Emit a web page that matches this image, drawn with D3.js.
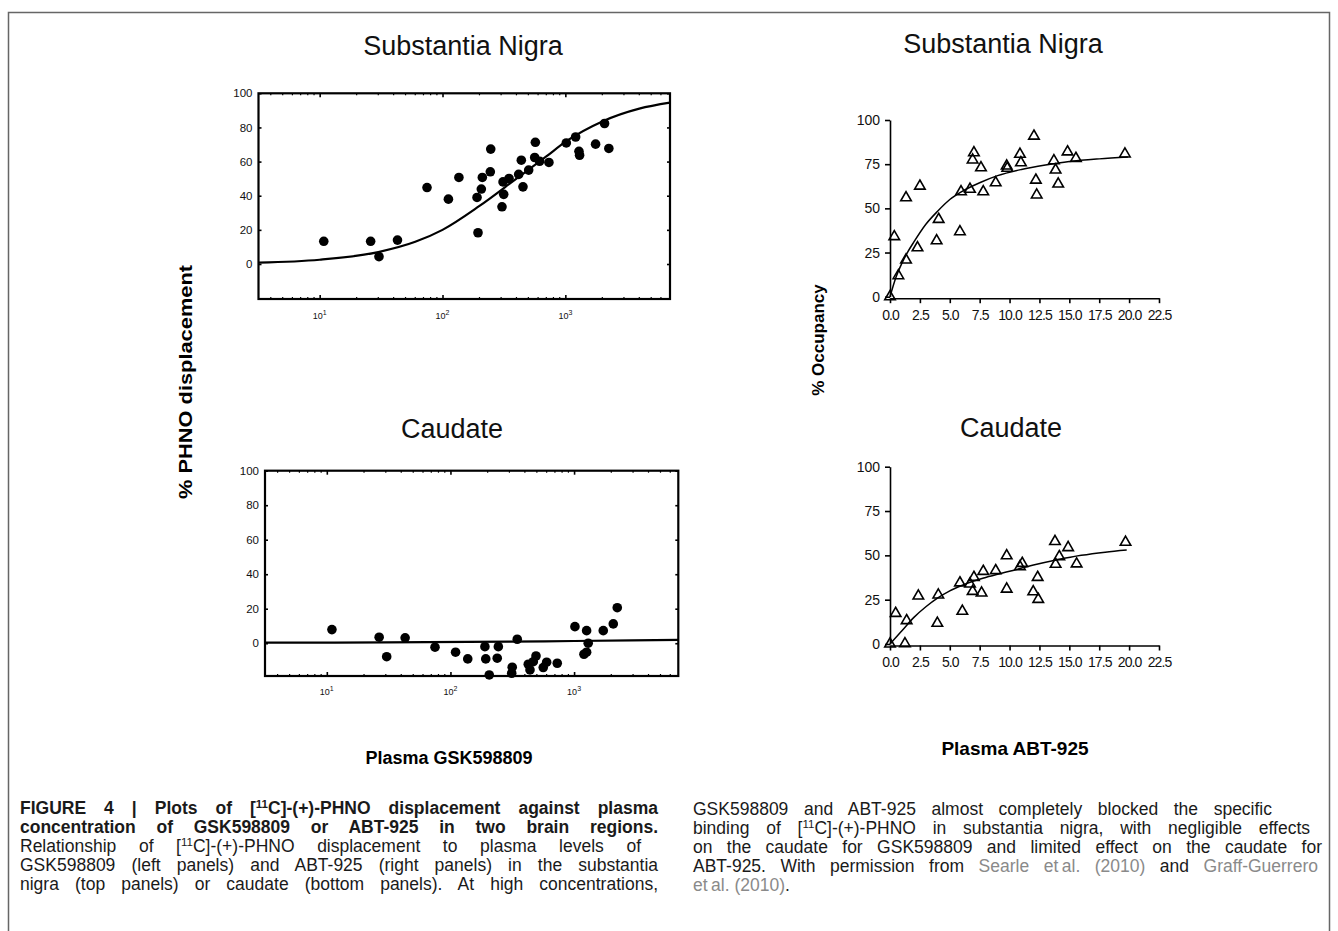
<!DOCTYPE html>
<html>
<head>
<meta charset="utf-8">
<script src="https://cdn.jsdelivr.net/npm/d3@7"></script>
<style>
  body { margin: 0; background: #fff; }
  svg text { font-family: "Liberation Sans", Arial, sans-serif; }
  .cap { font-size: 17.5px; fill: #1a1a1a; }
</style>
</head>
<body>
<svg id="fig" width="1338" height="931"></svg>
<script>
// --- GSK598809, substantia nigra (top left)
const tlConc = [10.8, 26, 30.4, 43, 74.8, 111.7, 136, 247, 194.5, 191, 207, 211, 245, 305, 315, 311, 348, 417, 452, 438, 503, 570, 563, 617, 735, 1018, 1213, 1291, 1306, 1763, 2085, 2260];
const tlDisp = [13.3, 13.3, 4.3, 14, 44.8, 38, 50.7, 67.3, 18.3, 39, 43.9, 50.7, 54, 33.5, 40.8, 48.1, 50.1, 52.5, 45.2, 60.8, 55, 71.3, 62.4, 60.2, 59.5, 70.9, 74.4, 66, 63.7, 70.2, 82.3, 67.7];
const tlFitConc = [3.2, 10, 30, 60, 100, 200, 400, 700, 1000, 2000, 4000, 7100];
const tlFitDisp = [0.8, 2.5, 7, 13, 20, 34, 50, 63, 71.5, 83.5, 91, 94.5];

// --- GSK598809, caudate (bottom left)
const blConc = [11, 26.5, 30.5, 43, 75, 110, 138, 190, 193, 206, 244, 239, 316, 313, 347, 426, 440, 492, 468, 563, 600, 731, 1016, 1263, 1301, 1202, 1263, 1722, 2075, 2235];
const blDisp = [7.9, 3.5, -7.8, 3.1, -2.3, -5.2, -9.1, -2, -9.1, -18.4, -2, -8.7, -13.9, -17.4, 2.3, -12.2, -15.5, -7.4, -10.7, -14.1, -11, -11.6, 9.6, 7.3, 0, -6.4, -5.2, 7.3, 11.2, 20.6];
const blFitConc = [3.2, 30, 300, 1000, 7000];
const blFitDisp = [0.3, 0.5, 0.9, 1.3, 1.9];

// --- ABT-925, substantia nigra (top right)
const trConc = [0, 0.36, 0.7, 1.34, 1.34, 2.3, 2.5, 3.9, 4.07, 5.85, 5.94, 6.69, 7.02, 6.91, 7.61, 7.8, 8.84, 9.76, 9.81, 10.87, 10.95, 12.04, 12.2, 12.27, 13.71, 13.85, 14.07, 14.85, 15.55, 19.65];
const trOcc = [0, 34, 11.9, 56, 20.8, 27.7, 62.6, 31.7, 43.8, 36.8, 59.4, 60.8, 81.5, 77.4, 73, 59.4, 64.5, 74, 72.7, 80.6, 75.8, 90.9, 66, 57.6, 77, 71.7, 63.8, 82, 78.3, 80.8];
const trFitConc = [0, 0.5, 1, 1.5, 2, 3, 4, 5, 6, 7.5, 9, 11, 13, 15, 17.5, 19.9];
const trFitOcc = [0, 11, 19, 25.5, 31, 41, 48.5, 55, 59.5, 64.5, 68.5, 72, 74.5, 76.5, 78, 79];

// --- ABT-925, caudate (bottom right)
const brConc = [0, 1.25, 0.47, 1.39, 2.37, 4.04, 3.96, 5.85, 6.05, 6.69, 7.02, 6.91, 7.66, 7.8, 8.84, 9.76, 9.76, 10.87, 11.06, 11.98, 12.35, 12.4, 13.8, 13.85, 14.16, 14.9, 15.61, 19.7];
const brOcc = [0, 0.2, 17.3, 13.2, 27.1, 27.7, 11.7, 34.5, 18.5, 33.9, 37.6, 29.7, 28.8, 41, 41.4, 49.8, 31, 43.6, 45.5, 29.5, 37.6, 25.2, 57.8, 45, 49.3, 54.4, 45.2, 57.4];
const brFitConc = [0, 1, 2, 3, 4, 5, 6, 7, 8, 10, 12, 14, 16, 18, 19.8];
const brFitOcc = [0, 7.5, 15, 21, 26, 30, 33, 35.5, 37.5, 41, 44.5, 47.5, 50, 51.8, 53];

// tick labels
const logTicks = [10, 100, 1000];
const dispTicks = [0, 20, 40, 60, 80, 100];
const occTicks = [0, 25, 50, 75, 100];
const abtTicks = [0, 2.5, 5, 7.5, 10, 12.5, 15, 17.5, 20, 22.5];

const svg = d3.select('#fig');

// outer frame
svg.append('path')
  .attr('d', 'M8.5,940 V12.5 H1329.5 V940')
  .attr('fill', 'none').attr('stroke', '#666').attr('stroke-width', 1.5);

function logPanel(p) {
  const x = d3.scaleLog().domain(p.xDomain).range(p.xRange);
  const y = d3.scaleLinear().domain(p.yDomain).range(p.yRange);
  const [x0, x1] = p.xRange, [y0, y1] = p.yRange; // y0 bottom, y1 top
  const g = svg.append('g');

  // minor log ticks on top and bottom edges
  const minor = x.ticks().filter(d => logTicks.indexOf(d) < 0 && x(d) > x0 + 1 && x(d) < x1 - 1);
  g.selectAll('.mnb').data(minor).join('line')
    .attr('x1', d => x(d)).attr('x2', d => x(d)).attr('y1', y0).attr('y2', y0 - 2)
    .attr('stroke', '#000').attr('stroke-width', 1.2);
  g.selectAll('.mnt').data(minor).join('line')
    .attr('x1', d => x(d)).attr('x2', d => x(d)).attr('y1', y1).attr('y2', y1 + 2)
    .attr('stroke', '#000').attr('stroke-width', 1.2);

  const ax = [
    g.append('g').attr('transform', `translate(${x0},0)`)
      .call(d3.axisLeft(y).tickValues(dispTicks).tickSize(-3).tickPadding(6).tickFormat(d3.format('d'))),
    g.append('g').attr('transform', `translate(${x1},0)`)
      .call(d3.axisRight(y).tickValues(dispTicks).tickSize(-3).tickFormat('')),
    g.append('g').attr('transform', `translate(0,${y0})`)
      .call(d3.axisBottom(x).tickValues(logTicks).tickSize(-4).tickFormat('')),
    g.append('g').attr('transform', `translate(0,${y1})`)
      .call(d3.axisTop(x).tickValues(logTicks).tickSize(-4).tickFormat(''))
  ];
  ax.forEach(a => {
    a.select('.domain').remove();
    a.selectAll('line').attr('stroke-width', 1.6);
    a.selectAll('text').attr('font-family', '"Liberation Sans", Arial, sans-serif')
      .attr('font-size', 11.5).attr('fill', '#111');
  });

  // decade labels 10^n
  const lab = g.selectAll('.lg').data(logTicks).join('text')
    .attr('x', d => x(d)).attr('y', y0 + p.labOff)
    .attr('text-anchor', 'middle').attr('font-size', 9).attr('fill', '#111');
  lab.append('tspan').text('10');
  lab.append('tspan').attr('dy', -4).attr('font-size', 7).text(d => Math.round(Math.log10(d)));

  // box
  g.append('rect').attr('x', x0).attr('y', y1).attr('width', x1 - x0).attr('height', y0 - y1)
    .attr('fill', 'none').attr('stroke', '#000').attr('stroke-width', 2.2);

  // fitted curve
  const fit = d3.zip(p.fitX, p.fitY);
  g.append('path').datum(fit)
    .attr('d', d3.line().x(d => x(d[0])).y(d => y(d[1])).curve(d3.curveMonotoneX))
    .attr('fill', 'none').attr('stroke', '#000').attr('stroke-width', 2.2);

  // points
  g.selectAll('.pt').data(d3.zip(p.xs, p.ys)).join('circle')
    .attr('cx', d => x(d[0])).attr('cy', d => y(d[1])).attr('r', 4.8).attr('fill', '#000');
}

function linPanel(p) {
  const x = d3.scaleLinear().domain([0, 22.5]).range(p.xRange);
  const y = d3.scaleLinear().domain([0, 100]).range(p.yRange);
  const g = svg.append('g');

  const ya = g.append('g').attr('transform', `translate(${p.xRange[0]},0)`)
    .call(d3.axisLeft(y).tickValues(occTicks).tickSize(5).tickSizeOuter(0).tickPadding(5).tickFormat(d3.format('d')));
  const xa = g.append('g').attr('transform', `translate(0,${p.yRange[0] + 1.5})`)
    .call(d3.axisBottom(x).tickValues(abtTicks).tickSize(5).tickSizeOuter(0).tickPadding(7).tickFormat(d3.format('.1f')));
  [ya, xa].forEach(a => {
    a.select('.domain').attr('stroke-width', 1.6);
    a.selectAll('line').attr('stroke-width', 1.6);
    a.selectAll('text').attr('font-family', '"Liberation Sans", Arial, sans-serif')
      .attr('font-size', 14).attr('fill', '#111');
  });
  xa.selectAll('text').attr('letter-spacing', -0.9);

  const fit = d3.zip(p.fitX, p.fitY);
  g.append('path').datum(fit)
    .attr('d', d3.line().x(d => x(d[0])).y(d => y(d[1])).curve(d3.curveMonotoneX))
    .attr('fill', 'none').attr('stroke', '#000').attr('stroke-width', 1.5);

  g.selectAll('.tri').data(d3.zip(p.xs, p.ys)).join('path')
    .attr('transform', d => `translate(${x(d[0])},${y(d[1])})`)
    .attr('d', d3.symbol(d3.symbolTriangle, 48))
    .attr('fill', 'none').attr('stroke', '#000').attr('stroke-width', 1.6);
}

logPanel({ xDomain: [Math.pow(10, 0.502), Math.pow(10, 3.852)], xRange: [258.5, 670],
  yDomain: [-20.5, 100], yRange: [299, 93.3], labOff: 20,
  xs: tlConc, ys: tlDisp, fitX: tlFitConc, fitY: tlFitDisp });
logPanel({ xDomain: [Math.pow(10, 0.5), Math.pow(10, 3.843)], xRange: [265, 678.3],
  yDomain: [-19, 100], yRange: [676, 470.7], labOff: 19,
  xs: blConc, ys: blDisp, fitX: blFitConc, fitY: blFitDisp });
linPanel({ xRange: [890, 1159], yRange: [296.7, 120],
  xs: trConc, ys: trOcc, fitX: trFitConc, fitY: trFitOcc });
linPanel({ xRange: [890, 1159], yRange: [644, 466.7],
  xs: brConc, ys: brOcc, fitX: brFitConc, fitY: brFitOcc });

// panel titles
const titles = [
  ['Substantia Nigra', 463, 55], ['Substantia Nigra', 1003, 53],
  ['Caudate', 452, 438], ['Caudate', 1011, 437]
];
svg.selectAll('.ttl').data(titles).join('text')
  .attr('x', d => d[1]).attr('y', d => d[2]).attr('text-anchor', 'middle')
  .attr('font-size', 27).attr('fill', '#111').text(d => d[0]);

// axis titles
svg.append('text').attr('transform', 'translate(192,382) rotate(-90)')
  .attr('text-anchor', 'middle').attr('font-size', 18).attr('font-weight', 'bold')
  .attr('textLength', 234).attr('lengthAdjust', 'spacingAndGlyphs').text('% PHNO displacement');
svg.append('text').attr('transform', 'translate(824,340) rotate(-90)')
  .attr('text-anchor', 'middle').attr('font-size', 17).attr('font-weight', 'bold').text('% Occupancy');
svg.append('text').attr('x', 449).attr('y', 764).attr('text-anchor', 'middle')
  .attr('font-size', 18).attr('font-weight', 'bold').text('Plasma GSK598809');
svg.append('text').attr('x', 1015).attr('y', 755).attr('text-anchor', 'middle')
  .attr('font-size', 19).attr('font-weight', 'bold').text('Plasma ABT-925');

// caption, justified line by line
const grey = '#8a8a8a';
const capLines = [
  { x: 20, y: 814, w: 638, bold: true, segs: [['FIGURE 4 | Plots of ['], ['11', 'sup'], ['C]-(+)-PHNO displacement against plasma']] },
  { x: 20, y: 833, w: 638, bold: true, segs: [['concentration of GSK598809 or ABT-925 in two brain regions.']] },
  { x: 20, y: 852, w: 621, segs: [['Relationship of ['], ['11', 'sup'], ['C]-(+)-PHNO displacement to plasma levels of']] },
  { x: 20, y: 871, w: 638, segs: [['GSK598809 (left panels) and ABT-925 (right panels) in the substantia']] },
  { x: 20, y: 890, w: 638, segs: [['nigra (top panels) or caudate (bottom panels). At high concentrations,']] },
  { x: 693, y: 815, w: 579, segs: [['GSK598809 and ABT-925 almost completely blocked the specific']] },
  { x: 693, y: 834, w: 617, segs: [['binding of ['], ['11', 'sup'], ['C]-(+)-PHNO in substantia nigra, with negligible effects']] },
  { x: 693, y: 853, w: 629, segs: [['on the caudate for GSK598809 and limited effect on the caudate for']] },
  { x: 693, y: 872, w: 625, segs: [['ABT-925. With permission from '], ['Searle et\u2009al. (2010)', 'grey'], [' and '], ['Graff-Guerrero', 'grey']] },
  { x: 693, y: 891, w: 0, segs: [['et\u2009al. (2010)', 'grey'], ['.']] }
];
capLines.forEach(l => {
  const t = svg.append('text').attr('class', 'cap').attr('x', l.x).attr('y', l.y)
    .attr('font-weight', l.bold ? 'bold' : null);
  let up = false;
  l.segs.forEach(s => {
    const ts = t.append('tspan').text(s[0]);
    if (s[1] === 'sup') { ts.attr('dy', -6).attr('font-size', 11.5); up = true; }
    else if (up) { ts.attr('dy', 6); up = false; }
    if (s[1] === 'grey') ts.attr('fill', grey);
  });
  if (l.w) {
    const nat = t.node().getComputedTextLength();
    const spaces = l.segs.map(s => s[0]).join('').split(' ').length - 1;
    if (spaces > 0) t.style('word-spacing', Math.max(0, (l.w - nat) / spaces) + 'px');
  }
});
</script>
</body>
</html>
